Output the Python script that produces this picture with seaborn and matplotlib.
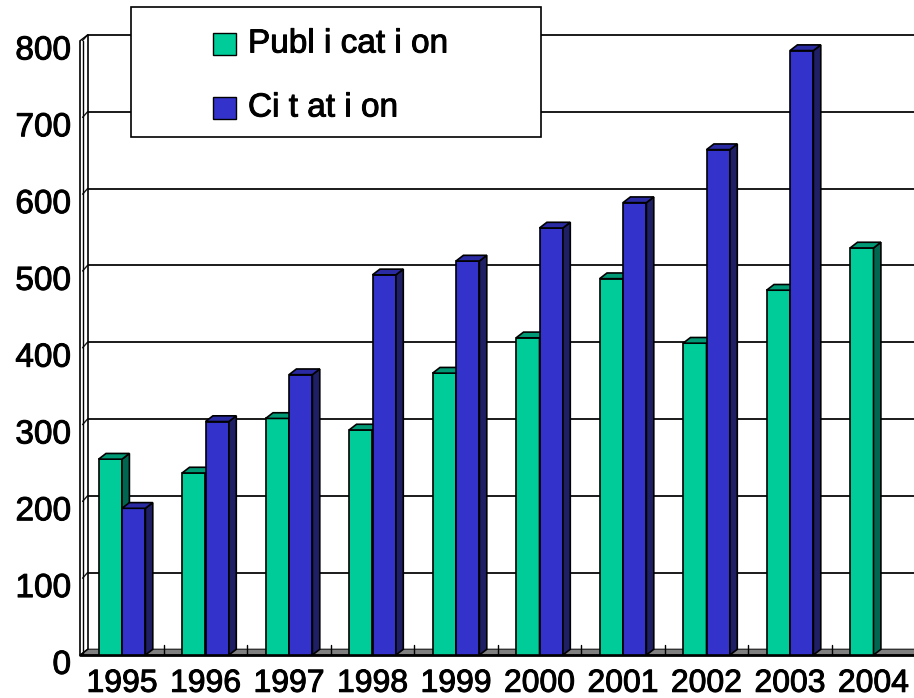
import numpy as np
import pandas as pd
import matplotlib
matplotlib.use("Agg")
import matplotlib.pyplot as plt
import matplotlib.patheffects as pe
import seaborn as sns
from matplotlib.patches import Polygon, Rectangle

# ---- data -------------------------------------------------------------
years = ["1995", "1996", "1997", "1998", "1999",
         "2000", "2001", "2002", "2003", "2004"]
publication = [255, 237, 308, 293, 367, 413, 490, 406, 475, 530]
citation = [191, 304, 365, 495, 513, 556, 589, 658, 787, np.nan]
series_names = ["Publication", "Citation"]
legend_labels = ["Publ i cat i on", "Ci t at i on"]
y_ticks = [0, 100, 200, 300, 400, 500, 600, 700, 800]

# ---- colours (front, top, side) ---------------------------------------
FACE = {"Publication": ("#00CC99", "#009975", "#006650"),
        "Citation": ("#3333CC", "#2A2AA3", "#1F1F66")}

W, H = 914, 698
sns.set_theme(style="white")
plt.rcParams["font.family"] = ["Liberation Sans", "DejaVu Sans"]
HEAVY = [pe.withStroke(linewidth=0.7, foreground="black")]

fig = plt.figure(figsize=(W / 100, H / 100), dpi=100)
ax = fig.add_axes([0, 0, 1, 1])

df = pd.DataFrame({
    "Year": years * 2,
    "Series": [series_names[0]] * len(years) + [series_names[1]] * len(years),
    "Value": publication + citation,
})
sns.barplot(data=df, x="Year", y="Value", hue="Series",
            hue_order=series_names,
            palette=[FACE[s][0] for s in series_names],
            saturation=1, width=0.56, edgecolor="black", linewidth=1.2,
            legend=False, ax=ax, zorder=3)

# pixel scale of the drawing: one category = 83.5 px, 100 units = 76.8 px
CAT_PX = 83.5
UNIT_PX = 0.768
X0_PX = 80.25          # left edge of the first category slot
BASE_PX = 655          # floor front edge (pixel row)
xmin = -0.5 - X0_PX / CAT_PX
xmax = -0.5 + (W - X0_PX) / CAT_PX
ymin = -(H - BASE_PX) / UNIT_PX
ymax = BASE_PX / UNIT_PX
ax.set_xlim(xmin, xmax)
ax.set_ylim(ymin, ymax)
ax.axis("off")

# depth of the 3-D extrusion
DX = 7.4 / CAT_PX
DY = 5.7 / UNIT_PX
x0 = -0.5
top = y_ticks[-1]

# back-wall gridlines and the slanted left wall
for v in y_ticks[1:]:
    ax.plot([x0 + DX, xmax + 1], [v + DY, v + DY], color="#1a1a1a",
            lw=1.4, zorder=1, solid_capstyle="butt")
    ax.plot([x0 + 2.3 / CAT_PX, x0 + DX], [v, v + DY], color="#1a1a1a",
            lw=1.0, zorder=1.6)
ax.plot([x0, x0], [0, top], color="black", lw=1.2, zorder=1.6)
ax.plot([x0 + 2.3 / CAT_PX] * 2, [0, top], color="black", lw=1.0, zorder=1.6)
ax.plot([x0 + DX, x0 + DX], [DY, top + DY], color="black", lw=1.2, zorder=1.6)
ax.plot([x0, x0 + DX], [top, top + DY], color="black", lw=1.0, zorder=1.6)

# floor
floor = Polygon([(x0, 0), (xmax + 1, 0), (xmax + 1 + DX, DY), (x0 + DX, DY)],
                closed=True, facecolor="#808080", edgecolor="#333333",
                lw=1.0, zorder=1.5)
ax.add_patch(floor)
ax.plot([x0, xmax + 1], [0, 0], color="black", lw=2.0, zorder=2.5)
ax.plot([x0, x0 + DX], [0, DY], color="black", lw=1.0, zorder=1.6)
for i in range(1, len(years)):
    ax.plot([i - 0.5, i - 0.5], [0, 13], color="black", lw=1.0, zorder=1.7)

# extrude each bar: side and top faces
for bar in list(ax.patches):
    if not isinstance(bar, Rectangle) or bar is floor:
        continue
    h = bar.get_height()
    if not np.isfinite(h) or h <= 0:
        continue
    x, w = bar.get_x(), bar.get_width()
    cx = x + w / 2
    i = int(round(cx))
    j = 0 if cx < i else 1
    front, top_c, side_c = FACE[series_names[j]]
    z = 3 + i * 0.2 + j * 0.1
    bar.set_zorder(z)
    side = Polygon([(x + w, 0), (x + w + DX, DY), (x + w + DX, h + DY), (x + w, h)],
                   closed=True, facecolor=side_c, edgecolor="black",
                   lw=1.2, zorder=z + 0.01)
    lid = Polygon([(x, h), (x + w, h), (x + w + DX, h + DY), (x + DX, h + DY)],
                  closed=True, facecolor=top_c, edgecolor="black",
                  lw=1.2, zorder=z + 0.02)
    ax.add_patch(side)
    ax.add_patch(lid)

# axis labels
for v in y_ticks:
    ax.text(xmin + 71 / CAT_PX, v - 13.5, str(v), ha="right", va="center",
            fontsize=24, color="black", zorder=5, path_effects=HEAVY)
for i, yr in enumerate(years):
    ax.text(i, -37.5, yr, ha="center", va="center", fontsize=23,
            color="black", zorder=5, path_effects=HEAVY)

# legend box
def fx(p):
    return p / W

def fy(p):
    return 1 - p / H

ax.add_patch(Rectangle((fx(131), fy(137)), fx(541) - fx(131), fy(7) - fy(137),
                       transform=fig.transFigure, facecolor="white",
                       edgecolor="black", lw=1.2, zorder=10))
for name, label, yc in zip(series_names, legend_labels, [44, 108]):
    ax.add_patch(Rectangle((fx(213), fy(yc + 11)), fx(236) - fx(213), 22 / H,
                           transform=fig.transFigure, facecolor=FACE[name][0],
                           edgecolor="black", lw=1.0, zorder=11))
    fig.text(fx(248), fy(yc), label, ha="left", va="center", fontsize=24,
             color="black", zorder=11, path_effects=HEAVY)

fig.savefig("out.png", dpi=100)
